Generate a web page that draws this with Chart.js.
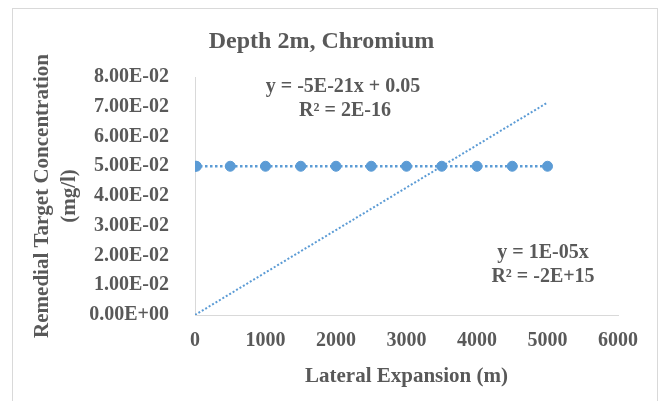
<!DOCTYPE html>
<html>
<head>
<meta charset="utf-8">
<script src="https://cdn.jsdelivr.net/npm/chart.js@4"></script>
<style>
  body { margin: 0; background: #fff; }
  #frame { position: absolute; left: 12px; top: 8px; width: 646px; height: 400px; border: 1px solid #d9d9d9; border-bottom: none; box-sizing: border-box; }
  canvas { position: absolute; left: 0; top: 0; }
</style>
</head>
<body>
<div id="frame"></div>
<canvas id="myChart" width="660" height="401"></canvas>
<script>
// measured points
var xValues = [0, 20, 500, 1000, 1500, 2000, 2500, 3000, 3500, 4000, 4500, 5000]
var yValues = [0.05, 0.05, 0.05, 0.05, 0.05, 0.05, 0.05, 0.05, 0.05, 0.05, 0.05, 0.05]

// trendlines as drawn (start / end)
var trend1X = [0, 5000]
var trend1Y = [0.05, 0.05]
var trend2X = [0, 5000]
var trend2Y = [0, 0.0714]

var yTickLabels = ["0.00E+00", "1.00E-02", "2.00E-02", "3.00E-02", "4.00E-02",
  "5.00E-02", "6.00E-02", "7.00E-02", "8.00E-02"]
var xTickLabels = ["0", "1000", "2000", "3000", "4000", "5000", "6000"]

var eq1 = ["y = -5E-21x + 0.05", "R\u00b2 = 2E-16"]
var eq2 = ["y = 1E-05x", "R\u00b2 = -2E+15"]

var textColor = "#595959"
var blue = "#5b9bd5"
var serif = "'Liberation Serif', 'Times New Roman', serif"

function pts(xs, ys) {
  var res = []
  for (var i in xs) {
    res.push({ x: xs[i], y: ys[i] })
  }
  return res
}

// trendline equations written inside the plot
var equationLabels = {
  id: "equationLabels",
  afterDatasetsDraw: function(chart) {
    var ctx = chart.ctx
    ctx.save()
    ctx.fillStyle = textColor
    ctx.font = "bold 20px " + serif
    ctx.textAlign = "center"
    ctx.textBaseline = "middle"
    ctx.fillText(eq1[0], 343, 87)
    ctx.fillText(eq1[1], 345, 111)
    ctx.fillText(eq2[0], 543, 253)
    ctx.fillText(eq2[1], 543, 277)
    ctx.restore()
  }
}

var ctx = document.getElementById("myChart")
var myChart = new Chart(ctx, {
  type: "scatter",
  data: {
    datasets: [{
      // linear trendline
      type: "line",
      data: pts(trend2X, trend2Y),
      borderColor: blue,
      borderWidth: 2,
      borderDash: [2, 2],
      pointRadius: 0,
      fill: false
    }, {
      type: "line",
      data: pts(trend1X, trend1Y),
      borderColor: blue,
      borderWidth: 2.5,
      borderDash: [2.5, 2.5],
      pointRadius: 0,
      fill: false
    }, {
      data: pts(xValues, yValues),
      backgroundColor: blue,
      borderColor: blue,
      pointRadius: 5,
      pointHoverRadius: 5
    }]
  },
  options: {
    responsive: false,
    animation: false,
    layout: { padding: { left: 25, right: 42, top: 5, bottom: 10 } },
    plugins: {
      legend: { display: false },
      tooltip: { enabled: false },
      title: {
        display: true,
        text: "Depth 2m, Chromium",
        color: textColor,
        font: { family: serif, size: 24, weight: "bold", lineHeight: 1 },
        padding: { top: 25, bottom: 23 }
      }
    },
    scales: {
      x: {
        type: "linear",
        min: 0,
        max: 6000,
        grid: { display: false },
        border: { color: "#d9d9d9", width: 1 },
        ticks: {
          stepSize: 1000,
          padding: 6,
          color: textColor,
          font: { family: serif, size: 20, weight: "bold" },
          callback: function(v, i) { return xTickLabels[i] }
        },
        title: {
          display: true,
          text: "Lateral Expansion (m)",
          color: textColor,
          font: { family: serif, size: 21, weight: "bold" },
          padding: { top: 4, bottom: 2 }
        },
        afterFit: function(scale) { scale.height = 76 }
      },
      y: {
        min: 0,
        max: 0.08,
        grid: { display: false },
        border: { color: "#d9d9d9", width: 1 },
        ticks: {
          stepSize: 0.01,
          padding: 18,
          color: textColor,
          font: { family: serif, size: 20, weight: "bold" },
          callback: function(v, i) { return yTickLabels[i] }
        },
        title: {
          display: true,
          text: ["Remedial Target Concentration", "(mg/l)"],
          color: textColor,
          font: { family: serif, size: 21, weight: "bold", lineHeight: 1.3 },
          padding: { top: 4, bottom: 4 }
        },
        afterFit: function(scale) { scale.width = 170 }
      }
    }
  },
  plugins: [equationLabels]
})
</script>
</body>
</html>
